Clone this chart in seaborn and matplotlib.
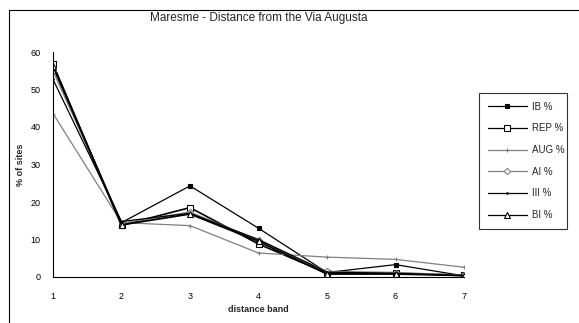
import matplotlib
matplotlib.use("Agg")
import matplotlib.pyplot as plt
import seaborn as sns
import pandas as pd
from matplotlib.lines import Line2D

sns.set_theme(style="white")
plt.rcParams['font.family'] = ['Liberation Sans', 'DejaVu Sans']

bands = [1, 2, 3, 4, 5, 6, 7]
series_names = ["IB %", "REP %", "AUG %", "AI %", "III %", "BI %"]
ib = [56.0, 14.5, 24.3, 13.0, 1.2, 3.3, 0.3]
rep = [56.8, 13.8, 18.5, 8.8, 1.0, 1.0, 0.5]
aug = [43.6, 14.5, 13.7, 6.4, 5.3, 4.7, 2.6]
ai = [55.0, 14.3, 17.3, 9.8, 1.5, 1.2, 0.5]
iii = [52.7, 14.8, 17.0, 10.0, 1.3, 1.0, 0.3]
bi = [56.3, 13.9, 16.8, 9.5, 0.8, 0.8, 0.4]
yticks = [0, 10, 20, 30, 40, 50, 60]

values = [ib, rep, aug, ai, iii, bi]
rows = []
for name, vals in zip(series_names, values):
    for b, v in zip(bands, vals):
        rows.append({"band": b, "pct": v, "series": name})
df = pd.DataFrame(rows)

colors = {"IB %": "#000000", "REP %": "#000000", "AUG %": "#808080",
          "AI %": "#808080", "III %": "#000000", "BI %": "#000000"}
markers = {"IB %": "s", "REP %": "s", "AUG %": "+", "AI %": "D", "III %": ".", "BI %": "^"}
msizes = {"IB %": 2.2, "REP %": 4.5, "AUG %": 3.5, "AI %": 3.2, "III %": 2.2, "BI %": 4.5}
mfc = {"IB %": "black", "REP %": "white", "AUG %": "black", "AI %": "white",
       "III %": "black", "BI %": "white"}
lws = {"IB %": 0.9, "REP %": 1.2, "AUG %": 0.9, "AI %": 1.0, "III %": 0.9, "BI %": 1.3}

fig = plt.figure(figsize=(5.79, 3.23), dpi=100)
ax = fig.add_axes([53/579, 1-277/323, (464-53)/579, (277-52)/323])

for name in series_names:
    sub = df[df["series"] == name]
    sns.lineplot(data=sub, x="band", y="pct", ax=ax, color=colors[name],
                 marker=markers[name], markersize=msizes[name],
                 markerfacecolor=mfc[name], markeredgecolor=colors[name],
                 markeredgewidth=0.8, linewidth=lws[name], label=name)

ax.set_xlim(1, 7)
ax.set_ylim(0, 60)
ax.set_xticks(bands)
ax.set_yticks(yticks)
ax.tick_params(axis="both", direction="inout", length=6, width=0.8,
               labelsize=6.5, colors="black", pad=3)
ax.tick_params(axis="x", pad=8)
ax.tick_params(axis="y", pad=6)
for s in ["top", "right"]:
    ax.spines[s].set_visible(False)
for s in ["left", "bottom"]:
    ax.spines[s].set_color("black")
    ax.spines[s].set_linewidth(0.8)
ax.set_xlabel("distance band", fontsize=6.5, fontweight="bold", labelpad=3)
ax.set_ylabel("% of sites", fontsize=6.5, fontweight="bold", labelpad=4)
ax.set_title("Maresme - Distance from the Via Augusta", fontsize=8.5, pad=22)

handles = [Line2D([0], [0], color=colors[n], marker=markers[n], markersize=msizes[n],
                  markerfacecolor=mfc[n], markeredgecolor=colors[n], markeredgewidth=0.8,
                  linewidth=0.9) for n in series_names]
leg = ax.legend(handles, series_names, loc="upper left",
                bbox_to_anchor=(479/579, 1-235/323, (567-479)/579, (235-93)/323),
                bbox_transform=fig.transFigure, mode="expand", fontsize=7,
                frameon=True, fancybox=False, borderaxespad=0, handlelength=4.0,
                handletextpad=0.6, labelspacing=1.2, borderpad=0.9)
leg.get_frame().set_edgecolor("black")
leg.get_frame().set_linewidth(0.8)

# chart area border (left and top)
fig.add_artist(Line2D([9/579, 9/579], [0, 1-9.5/323], color="black", lw=0.8,
                      transform=fig.transFigure))
fig.add_artist(Line2D([9/579, 1], [1-9.5/323, 1-9.5/323], color="black", lw=0.8,
                      transform=fig.transFigure))

fig.savefig("out.png", dpi=100)
